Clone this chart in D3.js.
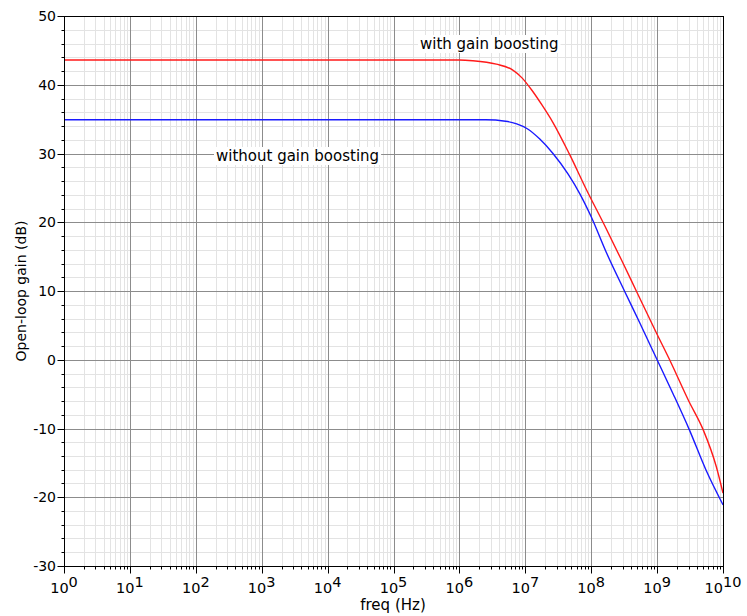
<!DOCTYPE html>
<html>
<head>
<meta charset="utf-8">
<script src="https://cdn.jsdelivr.net/npm/d3@7"></script>
<style>
  body { margin: 0; background: #fff; }
  text { font-family: "DejaVu Sans", sans-serif; fill: #000; }
</style>
</head>
<body>
<svg id="chart" width="747" height="616"></svg>
<script>
// log10 of frequency (Hz) and gain (dB)
const withExp  = [0, 6.0, 6.2, 6.56, 6.8, 6.95, 7.1, 7.25, 7.42, 7.67, 7.93, 8.2, 8.46, 8.69, 8.99, 9.19, 9.48, 9.70, 9.90, 10.0];
const withGain = [43.6, 43.6, 43.5, 43.0, 42.2, 41.0, 39.2, 37.1, 34.5, 29.9, 24.7, 19.6, 14.5, 9.9, 3.9, 0.0, -6.0, -10.2, -15.6, -19.4];

const withoutExp  = [0, 6.4, 6.7, 6.87, 7.03, 7.22, 7.42, 7.65, 7.83, 8.0, 8.23, 8.51, 8.74, 9.0, 9.24, 9.49, 9.74, 10.0];
const withoutGain = [34.9, 34.9, 34.7, 34.3, 33.6, 32.1, 30.0, 27.0, 24.1, 20.8, 15.6, 9.9, 5.3, 0.0, -4.9, -10.2, -16.0, -21.1];

const xExponents = [0, 1, 2, 3, 4, 5, 6, 7, 8, 9, 10];
const yTicks = [-30, -20, -10, 0, 10, 20, 30, 40, 50];

const margin = {top: 16, right: 24, bottom: 50, left: 64};
const width = 747, height = 616;

const svg = d3.select("#chart");

const x = d3.scaleLog()
    .domain([1, 1e10])
    .range([margin.left, width - margin.right]);

const y = d3.scaleLinear()
    .domain([-30, 50])
    .range([height - margin.bottom, margin.top]);

// minor frequency values: 2..9 x 10^k
const minorX = [];
xExponents.slice(0, -1).forEach(k => {
  for (let m = 2; m <= 9; m++) minorX.push(m * Math.pow(10, k));
});
const minorY = d3.range(-30, 50.01, 2).filter(v => v % 10 !== 0);

const grid = svg.append("g");

grid.selectAll(".minor-x")
  .data(minorX)
  .join("line")
    .attr("x1", d => Math.round(x(d)) + 0.5)
    .attr("x2", d => Math.round(x(d)) + 0.5)
    .attr("y1", y(-30))
    .attr("y2", y(50))
    .attr("stroke", "#e3e3e3");

grid.selectAll(".minor-y")
  .data(minorY)
  .join("line")
    .attr("x1", x(1))
    .attr("x2", x(1e10))
    .attr("y1", d => Math.round(y(d)) + 0.5)
    .attr("y2", d => Math.round(y(d)) + 0.5)
    .attr("stroke", "#e3e3e3");

grid.selectAll(".major-x")
  .data(xExponents.map(k => Math.pow(10, k)))
  .join("line")
    .attr("x1", d => Math.round(x(d)) + 0.5)
    .attr("x2", d => Math.round(x(d)) + 0.5)
    .attr("y1", y(-30))
    .attr("y2", y(50))
    .attr("stroke", "#8c8c8c");

grid.selectAll(".major-y")
  .data(yTicks)
  .join("line")
    .attr("x1", x(1))
    .attr("x2", x(1e10))
    .attr("y1", d => Math.round(y(d)) + 0.5)
    .attr("y2", d => Math.round(y(d)) + 0.5)
    .attr("stroke", "#8c8c8c");

// curves
const line = d3.line()
    .x(d => x(Math.pow(10, d[0])))
    .y(d => y(d[1]))
    .curve(d3.curveMonotoneX);

svg.append("path")
    .datum(d3.zip(withExp, withGain))
    .attr("fill", "none")
    .attr("stroke", "#ff1a1a")
    .attr("stroke-width", 1.4)
    .attr("d", line);

svg.append("path")
    .datum(d3.zip(withoutExp, withoutGain))
    .attr("fill", "none")
    .attr("stroke", "#1a1aff")
    .attr("stroke-width", 1.4)
    .attr("d", line);

// frame
svg.append("rect")
    .attr("x", Math.round(x(1)) + 0.5)
    .attr("y", Math.round(y(50)) + 0.5)
    .attr("width", Math.round(x(1e10)) - Math.round(x(1)))
    .attr("height", Math.round(y(-30)) - Math.round(y(50)))
    .attr("fill", "none")
    .attr("stroke", "#000");

// x axis ticks
const xAxisY = Math.round(y(-30)) + 0.5;
svg.selectAll(".xtick-minor")
  .data(minorX)
  .join("line")
    .attr("x1", d => Math.round(x(d)) + 0.5)
    .attr("x2", d => Math.round(x(d)) + 0.5)
    .attr("y1", xAxisY)
    .attr("y2", xAxisY + 3)
    .attr("stroke", "#000");

svg.selectAll(".xtick-major")
  .data(xExponents)
  .join("line")
    .attr("x1", d => Math.round(x(Math.pow(10, d))) + 0.5)
    .attr("x2", d => Math.round(x(Math.pow(10, d))) + 0.5)
    .attr("y1", xAxisY)
    .attr("y2", xAxisY + 7)
    .attr("stroke", "#000");

const xLabels = svg.selectAll(".xlabel")
  .data(xExponents)
  .join("text")
    .attr("x", d => x(Math.pow(10, d)))
    .attr("y", 593)
    .attr("text-anchor", "middle")
    .attr("font-size", 14.5);
xLabels.append("tspan").text("10");
xLabels.append("tspan").attr("dy", -6).text(d => d);

// y axis ticks
const yAxisX = Math.round(x(1)) + 0.5;
svg.selectAll(".ytick-minor")
  .data(minorY)
  .join("line")
    .attr("x1", yAxisX - 3)
    .attr("x2", yAxisX)
    .attr("y1", d => Math.round(y(d)) + 0.5)
    .attr("y2", d => Math.round(y(d)) + 0.5)
    .attr("stroke", "#000");

svg.selectAll(".ytick-major")
  .data(yTicks)
  .join("line")
    .attr("x1", yAxisX - 7)
    .attr("x2", yAxisX)
    .attr("y1", d => Math.round(y(d)) + 0.5)
    .attr("y2", d => Math.round(y(d)) + 0.5)
    .attr("stroke", "#000");

svg.selectAll(".ylabel")
  .data(yTicks)
  .join("text")
    .attr("x", 56)
    .attr("y", d => y(d) + 5)
    .attr("text-anchor", "end")
    .attr("font-size", 14)
    .text(d => d);

// axis titles
svg.append("text")
    .attr("x", 393)
    .attr("y", 610)
    .attr("text-anchor", "middle")
    .attr("font-size", 15)
    .text("freq (Hz)");

svg.append("text")
    .attr("transform", `translate(26,${(y(-30) + y(50)) / 2}) rotate(-90)`)
    .attr("text-anchor", "middle")
    .attr("font-size", 14)
    .text("Open-loop gain (dB)");

// curve labels with white background
function label(text, lx, ly) {
  const g = svg.append("g");
  const bg = g.append("rect").attr("fill", "#fff");
  const t = g.append("text")
      .attr("x", lx)
      .attr("y", ly)
      .attr("font-size", 15)
      .attr("textLength", null)
      .text(text);
  const b = t.node().getBBox();
  bg.attr("x", b.x - 2).attr("y", b.y).attr("width", b.width + 4).attr("height", b.height);
}
label("with gain boosting", 420, 49);
label("without gain boosting", 216, 161);
</script>
</body>
</html>
